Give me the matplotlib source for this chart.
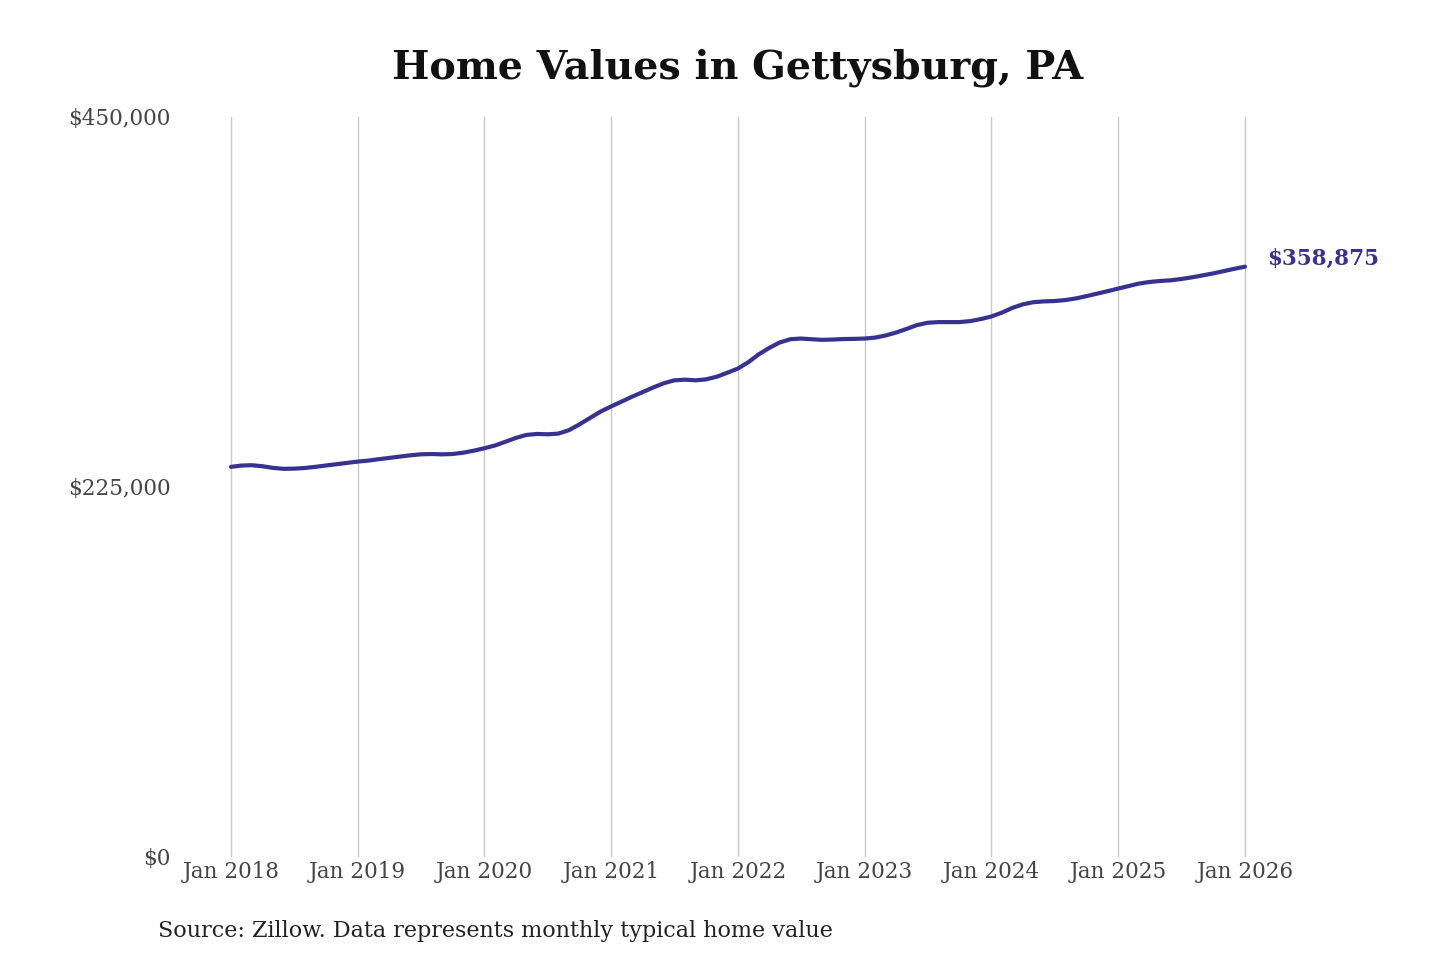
import pandas as pd
import matplotlib
matplotlib.use("Agg")
import matplotlib.pyplot as plt
import matplotlib.dates as mdates
from matplotlib.ticker import FuncFormatter

# Monthly typical home value, Jan 2018 - Jan 2026
values_2018 = [237200, 238000, 238200, 237600, 236600, 236000, 236100, 236500, 237200, 238000, 238800, 239600]
values_2019 = [240400, 241000, 241800, 242600, 243400, 244200, 244800, 245000, 244800, 245000, 245800, 247000]
values_2020 = [248500, 250200, 252400, 254800, 256600, 257200, 257000, 257400, 259500, 263000, 267000, 270800]
values_2021 = [274000, 277000, 279800, 282600, 285400, 288000, 289800, 290200, 289800, 290400, 292000, 294400]
values_2022 = [297000, 301000, 305500, 309500, 312800, 314800, 315200, 314800, 314400, 314600, 314900, 315000]
values_2023 = [315200, 315800, 317000, 318800, 321000, 323400, 324800, 325200, 325200, 325200, 325800, 327000]
values_2024 = [328600, 331000, 333800, 336000, 337300, 337800, 338000, 338600, 339600, 341000, 342500, 344000]
values_2025 = [345600, 347200, 348600, 349600, 350200, 350600, 351400, 352400, 353600, 354800, 356200, 357600]
values_2026 = [358875]

values = (values_2018 + values_2019 + values_2020 + values_2021 + values_2022
          + values_2023 + values_2024 + values_2025 + values_2026)
dates = pd.date_range("2018-01-01", periods=len(values), freq="MS")

tick_years = list(range(2018, 2027))
y_ticks = [0, 225000, 450000]

line_color = "#37318f"
font = "DejaVu Serif"

fig = plt.figure(figsize=(14.4, 9.6), dpi=100)
ax = fig.add_axes([0.125, 0.1073, 0.775, 0.771])

ax.plot(dates, values, color=line_color, linewidth=3, solid_capstyle="round")

ax.set_ylim(0, 450000)
start = pd.Timestamp("2018-01-01")
end = pd.Timestamp("2026-01-01")
ax.set_xlim(start - pd.Timedelta(days=147), end + pd.Timedelta(days=147))

ax.set_xticks([pd.Timestamp(f"{y}-01-01") for y in tick_years])
ax.xaxis.set_major_formatter(mdates.DateFormatter("Jan %Y"))
ax.set_yticks(y_ticks)
ax.yaxis.set_major_formatter(FuncFormatter(lambda v, p: f"${v:,.0f}"))

ax.grid(axis="x", color="#c8c8c8", linewidth=1)
ax.grid(axis="y", visible=False)
for s in ax.spines.values():
    s.set_visible(False)
ax.tick_params(axis="both", length=0, labelsize=15.5, labelcolor="#444444")
ax.tick_params(axis="x", pad=3)
ax.tick_params(axis="y", pad=7)
for lab in ax.get_xticklabels() + ax.get_yticklabels():
    lab.set_fontfamily(font)

ax.annotate(f"${values[-1]:,}", xy=(dates[-1], values[-1]), xytext=(16, 6),
            textcoords="offset points", color=line_color, fontsize=15.5,
            fontweight="bold", fontfamily=font, va="center", ha="left")

fig.text(0.5125, 0.929, "Home Values in Gettysburg, PA", ha="center", va="center",
         fontsize=28.5, fontweight="bold", fontfamily=font, color="#111111")
fig.text(0.11, 0.03, "Source: Zillow. Data represents monthly typical home value",
         ha="left", va="center", fontsize=16, fontfamily=font, color="#222222")

fig.savefig("out.png", dpi=100, facecolor="white")
